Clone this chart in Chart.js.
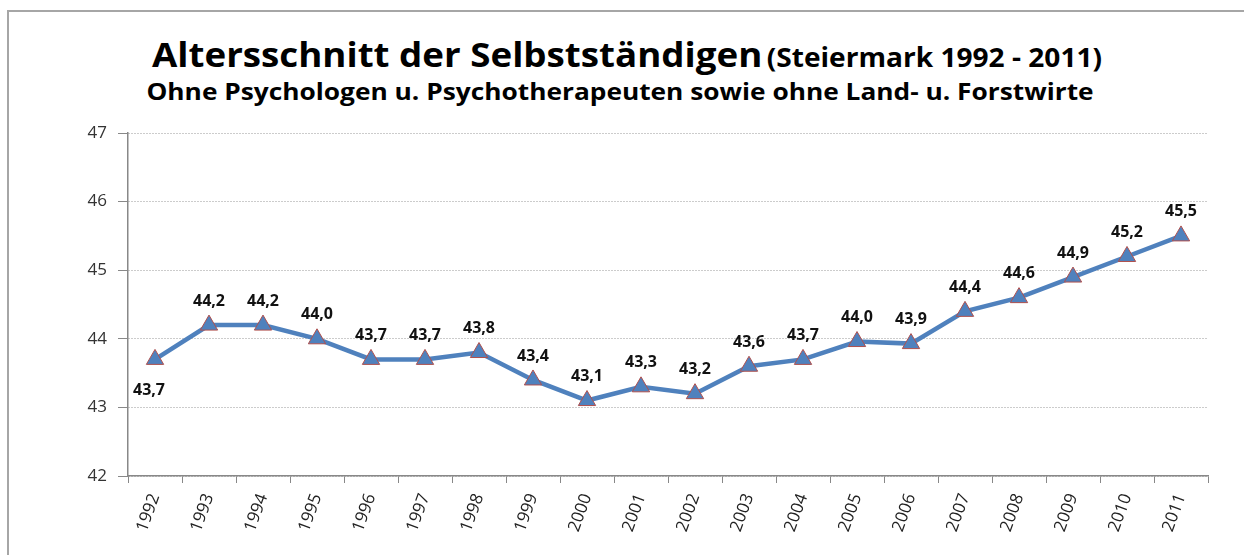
<!DOCTYPE html>
<html>
<head>
<meta charset="utf-8">
<script src="https://cdn.jsdelivr.net/npm/chart.js@4/dist/chart.umd.min.js"></script>
<style>
  html, body { margin: 0; padding: 0; background: #fff; overflow: hidden; }
  #rahmen { position: absolute; left: 7px; top: 10px; width: 1260px; height: 600px; border: 2px solid #a6a6a6; box-sizing: border-box; }
  #titel { position: absolute; left: 0; width: 1254px; top: 37px; line-height: 1; text-align: center; font-family: "Open Sans", sans-serif; font-weight: bold; color: #000; white-space: nowrap; transform: scaleX(1.08); }
  #titel .gross { font-size: 34px; }
  #titel .klein { font-size: 26px; }
  #untertitel { position: absolute; left: 0; width: 1240px; top: 79px; line-height: 1; text-align: center; font-family: "Open Sans", sans-serif; font-weight: bold; font-size: 24px; color: #000; white-space: nowrap; transform: scaleX(1.095); }
  #wrap { position: absolute; left: 0; top: 0; width: 1244px; height: 555px; }
</style>
</head>
<body>
<div id="rahmen"></div>
<div id="titel"><span class="gross">Altersschnitt der Selbstständigen</span> <span class="klein">(Steiermark 1992 - 2011)</span></div>
<div id="untertitel">Ohne Psychologen u. Psychotherapeuten sowie ohne Land- u. Forstwirte</div>
<div id="wrap"><canvas id="grafik"></canvas></div>
<script>
// Jahre und Durchschnittsalter
const jahre = ['1992', '1993', '1994', '1995', '1996', '1997', '1998', '1999', '2000', '2001',
               '2002', '2003', '2004', '2005', '2006', '2007', '2008', '2009', '2010', '2011'];
const alter = [43.7, 44.2, 44.2, 44.0, 43.7, 43.7, 43.8, 43.4, 43.1, 43.3,
               43.2, 43.6, 43.7, 43.96, 43.93, 44.4, 44.6, 44.9, 45.2, 45.5];
const yTicks = [42, 43, 44, 45, 46, 47];

// Werte-Beschriftung ueber den Punkten (erster Punkt darunter)
const beschriftung = {
    id: 'beschriftung',
    afterDatasetsDraw(chart) {
        const ctx = chart.ctx;
        const meta = chart.getDatasetMeta(0);
        ctx.save();
        ctx.font = 'bold 16px "Open Sans", sans-serif';
        ctx.fillStyle = '#111';
        ctx.textAlign = 'center';
        ctx.textBaseline = 'middle';
        meta.data.forEach((pt, i) => {
            const txt = alter[i].toFixed(1).replace('.', ',');
            if (i === 0) {
                ctx.fillText(txt, pt.x - 6, pt.y + 31);
            } else {
                ctx.fillText(txt, pt.x, pt.y - 24);
            }
        });
        ctx.restore();
    }
};

new Chart(document.getElementById('grafik').getContext('2d'), {
    type: 'line',
    data: {
        labels: jahre,
        datasets: [{
            data: alter,
            borderColor: '#4f81bd',
            borderWidth: 4.5,
            pointStyle: 'triangle',
            pointRadius: 10,
            pointHoverRadius: 10,
            pointBackgroundColor: '#4f81bd',
            pointBorderColor: '#b0504d',
            pointBorderWidth: 1,
            tension: 0
        }]
    },
    options: {
        responsive: true,
        maintainAspectRatio: false,
        animation: false,
        layout: { padding: { left: 78, top: 133, right: 36, bottom: 0 } },
        plugins: {
            legend: { display: false },
            tooltip: { enabled: false }
        },
        scales: {
            x: {
                offset: true,
                grid: { drawOnChartArea: false, offset: true, tickLength: 7, color: '#888', tickColor: '#888' },
                border: { color: '#888', width: 1.5 },
                ticks: {
                    color: '#222',
                    font: { family: '"Open Sans", sans-serif', size: 17 },
                    minRotation: 70,
                    maxRotation: 70,
                    padding: 8
                },
                afterFit(scale) { scale.height = 79; }
            },
            y: {
                min: 42,
                max: 47,
                afterBuildTicks(scale) { scale.ticks = yTicks.map(v => ({ value: v })); },
                grid: { color: '#999', tickLength: 10, tickColor: '#888', tickBorderDash: [] },
                border: { color: '#888', width: 1.5, dash: [1, 2] },
                ticks: {
                    color: '#333',
                    font: { family: '"Open Sans", sans-serif', size: 17 },
                    padding: 11
                },
                afterFit(scale) { scale.width = 50; }
            }
        }
    },
    plugins: [beschriftung]
});
</script>
</body>
</html>
